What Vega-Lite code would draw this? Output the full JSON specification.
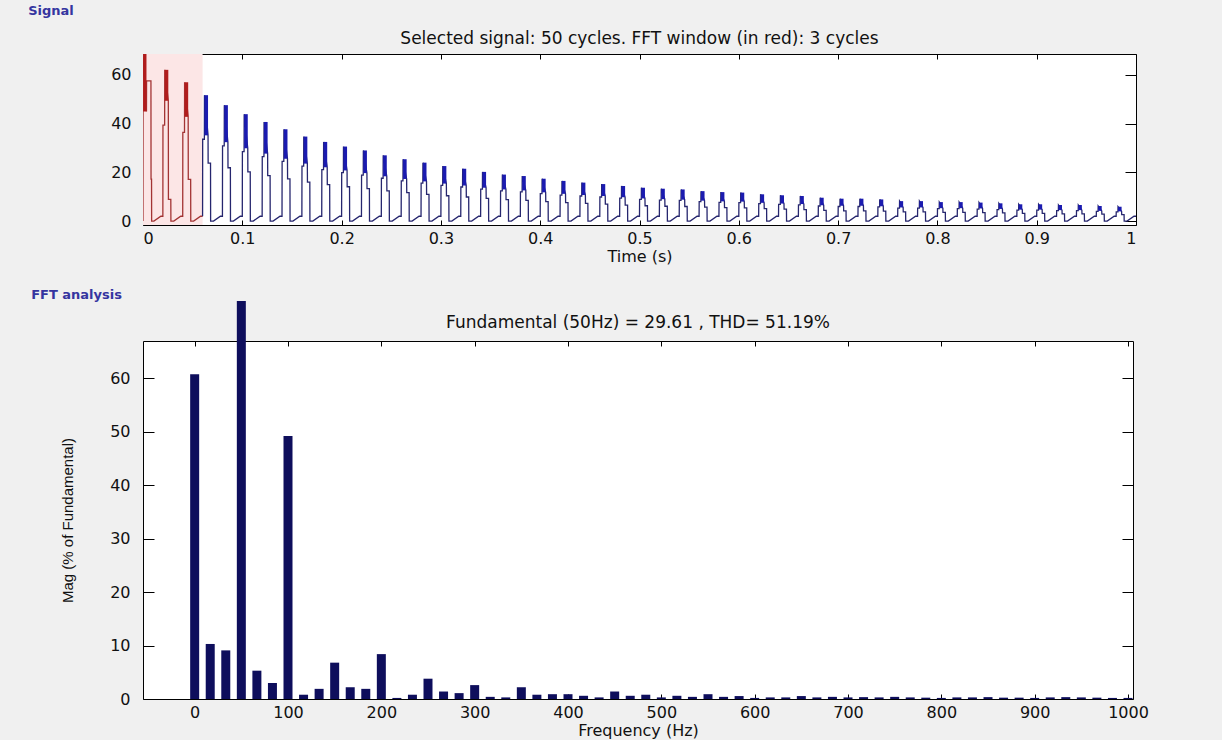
{
"$schema": "https://vega.github.io/schema/vega-lite/v6.json",
"background": "#f0f0f0",
"padding": {"left": 28, "top": 4, "right": 90, "bottom": 4},
"config": {
  "view": {"stroke": "#000", "strokeWidth": 1, "fill": "#ffffff"},
  "font": "DejaVu Sans",
  "axis": {"grid": false, "domain": false, "tickColor": "#000", "tickWidth": 1, "labelColor": "#111", "labelFont": "DejaVu Sans", "labelFontSize": 16, "titleFont": "DejaVu Sans", "titleFontSize": 16, "titleFontWeight": "normal", "titleColor": "#111", "zindex": 1},
  "title": {"font": "DejaVu Sans", "fontSize": 17, "fontWeight": "normal", "color": "#111"}
},
"datasets": {
"sig": [
{"t":0,"v":0},{"t":0.0001,"v":68.6},{"t":0.0035,"v":45},{"t":0.0036,"v":57.6},{"t":0.008,"v":57.6},{"t":0.0081,"v":17.2},{"t":0.0086,"v":17.2},{"t":0.0087,"v":0},{"t":0.011,"v":0},{"t":0.018,"v":2},
{"t":0.02,"v":2},{"t":0.0201,"v":39.4},{"t":0.0218,"v":39.4},{"t":0.0219,"v":62.1},{"t":0.0255,"v":49.4},{"t":0.0256,"v":8.9},{"t":0.028,"v":8.9},{"t":0.0281,"v":0},{"t":0.031,"v":0},{"t":0.038,"v":2},
{"t":0.04,"v":2},{"t":0.0401,"v":36.4},{"t":0.0418,"v":36.4},{"t":0.0419,"v":57},{"t":0.0455,"v":42.8},{"t":0.0456,"v":17.1},{"t":0.048,"v":17.1},{"t":0.0481,"v":0},{"t":0.051,"v":0},{"t":0.058,"v":2},
{"t":0.06,"v":2},{"t":0.0601,"v":33.6},{"t":0.0618,"v":33.6},{"t":0.0619,"v":51.7},{"t":0.0655,"v":35.2},{"t":0.0656,"v":23.8},{"t":0.068,"v":23.8},{"t":0.0681,"v":0},{"t":0.071,"v":0},{"t":0.078,"v":2},
{"t":0.08,"v":2},{"t":0.0801,"v":30.9},{"t":0.0818,"v":30.9},{"t":0.0819,"v":47.6},{"t":0.0855,"v":32.4},{"t":0.0856,"v":21.9},{"t":0.088,"v":21.9},{"t":0.0881,"v":0},{"t":0.091,"v":0},{"t":0.098,"v":2},
{"t":0.1,"v":2},{"t":0.1001,"v":28.5},{"t":0.1018,"v":28.5},{"t":0.1019,"v":43.9},{"t":0.1055,"v":29.9},{"t":0.1056,"v":20.2},{"t":0.108,"v":20.2},{"t":0.1081,"v":0},{"t":0.111,"v":0},{"t":0.118,"v":2},
{"t":0.12,"v":2},{"t":0.1201,"v":26.5},{"t":0.1218,"v":26.5},{"t":0.1219,"v":40.7},{"t":0.1255,"v":27.7},{"t":0.1256,"v":18.7},{"t":0.128,"v":18.7},{"t":0.1281,"v":0},{"t":0.131,"v":0},{"t":0.138,"v":2},
{"t":0.14,"v":2},{"t":0.1401,"v":24.5},{"t":0.1418,"v":24.5},{"t":0.1419,"v":37.7},{"t":0.1455,"v":25.6},{"t":0.1456,"v":17.3},{"t":0.148,"v":17.3},{"t":0.1481,"v":0},{"t":0.151,"v":0},{"t":0.158,"v":2},
{"t":0.16,"v":2},{"t":0.1601,"v":22.6},{"t":0.1618,"v":22.6},{"t":0.1619,"v":34.7},{"t":0.1655,"v":23.6},{"t":0.1656,"v":16},{"t":0.168,"v":16},{"t":0.1681,"v":0},{"t":0.171,"v":0},{"t":0.178,"v":2},
{"t":0.18,"v":2},{"t":0.1801,"v":21.1},{"t":0.1818,"v":21.1},{"t":0.1819,"v":32.5},{"t":0.1855,"v":22.1},{"t":0.1856,"v":15},{"t":0.188,"v":15},{"t":0.1881,"v":0},{"t":0.191,"v":0},{"t":0.198,"v":2},
{"t":0.2,"v":2},{"t":0.2001,"v":19.9},{"t":0.2018,"v":19.9},{"t":0.2019,"v":30.6},{"t":0.2055,"v":20.8},{"t":0.2056,"v":14.1},{"t":0.208,"v":14.1},{"t":0.2081,"v":0},{"t":0.211,"v":0},{"t":0.218,"v":2},
{"t":0.22,"v":2},{"t":0.2201,"v":18.9},{"t":0.2218,"v":18.9},{"t":0.2219,"v":29},{"t":0.2255,"v":19.7},{"t":0.2256,"v":13.3},{"t":0.228,"v":13.3},{"t":0.2281,"v":0},{"t":0.231,"v":0},{"t":0.238,"v":2},
{"t":0.24,"v":2},{"t":0.2401,"v":17.6},{"t":0.2418,"v":17.6},{"t":0.2419,"v":27},{"t":0.2455,"v":18.4},{"t":0.2456,"v":12.4},{"t":0.248,"v":12.4},{"t":0.2481,"v":0},{"t":0.251,"v":0},{"t":0.258,"v":2},
{"t":0.26,"v":2},{"t":0.2601,"v":16.5},{"t":0.2618,"v":16.5},{"t":0.2619,"v":25.4},{"t":0.2655,"v":17.3},{"t":0.2656,"v":11.7},{"t":0.268,"v":11.7},{"t":0.2681,"v":0},{"t":0.271,"v":0},{"t":0.278,"v":2},
{"t":0.28,"v":2},{"t":0.2801,"v":15.6},{"t":0.2818,"v":15.6},{"t":0.2819,"v":24},{"t":0.2855,"v":16.3},{"t":0.2856,"v":11},{"t":0.288,"v":11},{"t":0.2881,"v":0},{"t":0.291,"v":0},{"t":0.298,"v":2},
{"t":0.3,"v":2},{"t":0.3001,"v":14.7},{"t":0.3018,"v":14.7},{"t":0.3019,"v":22.6},{"t":0.3055,"v":15.4},{"t":0.3056,"v":10.4},{"t":0.308,"v":10.4},{"t":0.3081,"v":0},{"t":0.311,"v":0},{"t":0.318,"v":2},
{"t":0.32,"v":2},{"t":0.3201,"v":14},{"t":0.3218,"v":14},{"t":0.3219,"v":21.5},{"t":0.3255,"v":14.6},{"t":0.3256,"v":9.9},{"t":0.328,"v":9.9},{"t":0.3281,"v":0},{"t":0.331,"v":0},{"t":0.338,"v":2},
{"t":0.34,"v":2},{"t":0.3401,"v":13.1},{"t":0.3418,"v":13.1},{"t":0.3419,"v":20.2},{"t":0.3455,"v":13.7},{"t":0.3456,"v":9.3},{"t":0.348,"v":9.3},{"t":0.3481,"v":0},{"t":0.351,"v":0},{"t":0.358,"v":2},
{"t":0.36,"v":2},{"t":0.3601,"v":12.4},{"t":0.3618,"v":12.4},{"t":0.3619,"v":19.1},{"t":0.3655,"v":13},{"t":0.3656,"v":8.8},{"t":0.368,"v":8.8},{"t":0.3681,"v":0},{"t":0.371,"v":0},{"t":0.378,"v":2},
{"t":0.38,"v":2},{"t":0.3801,"v":12},{"t":0.3818,"v":12},{"t":0.3819,"v":18.5},{"t":0.3855,"v":12.6},{"t":0.3856,"v":8.5},{"t":0.388,"v":8.5},{"t":0.3881,"v":0},{"t":0.391,"v":0},{"t":0.398,"v":2},
{"t":0.4,"v":2},{"t":0.4001,"v":11.3},{"t":0.4018,"v":11.3},{"t":0.4019,"v":17.4},{"t":0.4055,"v":11.8},{"t":0.4056,"v":8},{"t":0.408,"v":8},{"t":0.4081,"v":0},{"t":0.411,"v":0},{"t":0.418,"v":2},
{"t":0.42,"v":2},{"t":0.4201,"v":10.7},{"t":0.4218,"v":10.7},{"t":0.4219,"v":16.5},{"t":0.4255,"v":11.2},{"t":0.4256,"v":7.6},{"t":0.428,"v":7.6},{"t":0.4281,"v":0},{"t":0.431,"v":0},{"t":0.438,"v":2},
{"t":0.44,"v":2},{"t":0.4401,"v":10.3},{"t":0.4418,"v":10.3},{"t":0.4419,"v":15.8},{"t":0.4455,"v":10.7},{"t":0.4456,"v":7.3},{"t":0.448,"v":7.3},{"t":0.4481,"v":0},{"t":0.451,"v":0},{"t":0.458,"v":2},
{"t":0.46,"v":2},{"t":0.4601,"v":9.9},{"t":0.4618,"v":9.9},{"t":0.4619,"v":15.2},{"t":0.4655,"v":10.3},{"t":0.4656,"v":7},{"t":0.468,"v":7},{"t":0.4681,"v":0},{"t":0.471,"v":0},{"t":0.478,"v":2},
{"t":0.48,"v":2},{"t":0.4801,"v":9.4},{"t":0.4818,"v":9.4},{"t":0.4819,"v":14.4},{"t":0.4855,"v":9.8},{"t":0.4856,"v":6.6},{"t":0.488,"v":6.6},{"t":0.4881,"v":0},{"t":0.491,"v":0},{"t":0.498,"v":2},
{"t":0.5,"v":2},{"t":0.5001,"v":8.9},{"t":0.5018,"v":8.9},{"t":0.5019,"v":13.7},{"t":0.5055,"v":9.3},{"t":0.5056,"v":6.3},{"t":0.508,"v":6.3},{"t":0.5081,"v":0},{"t":0.511,"v":0},{"t":0.518,"v":2},
{"t":0.52,"v":2},{"t":0.5201,"v":8.6},{"t":0.5218,"v":8.6},{"t":0.5219,"v":13.3},{"t":0.5255,"v":9},{"t":0.5256,"v":6.1},{"t":0.528,"v":6.1},{"t":0.5281,"v":0},{"t":0.531,"v":0},{"t":0.538,"v":2},
{"t":0.54,"v":2},{"t":0.5401,"v":8.5},{"t":0.5418,"v":8.5},{"t":0.5419,"v":13},{"t":0.5455,"v":8.8},{"t":0.5456,"v":6},{"t":0.548,"v":6},{"t":0.5481,"v":0},{"t":0.551,"v":0},{"t":0.558,"v":2},
{"t":0.56,"v":2},{"t":0.5601,"v":8},{"t":0.5618,"v":8},{"t":0.5619,"v":12.3},{"t":0.5655,"v":8.4},{"t":0.5656,"v":5.7},{"t":0.568,"v":5.7},{"t":0.5681,"v":0},{"t":0.571,"v":0},{"t":0.578,"v":2},
{"t":0.58,"v":2},{"t":0.5801,"v":7.7},{"t":0.5818,"v":7.7},{"t":0.5819,"v":11.9},{"t":0.5855,"v":8.1},{"t":0.5856,"v":5.5},{"t":0.588,"v":5.5},{"t":0.5881,"v":0},{"t":0.591,"v":0},{"t":0.598,"v":2},
{"t":0.6,"v":2},{"t":0.6001,"v":7.6},{"t":0.6018,"v":7.6},{"t":0.6019,"v":11.7},{"t":0.6055,"v":8},{"t":0.6056,"v":5.4},{"t":0.608,"v":5.4},{"t":0.6081,"v":0},{"t":0.611,"v":0},{"t":0.618,"v":2},
{"t":0.62,"v":2},{"t":0.6201,"v":7.2},{"t":0.6218,"v":7.2},{"t":0.6219,"v":11},{"t":0.6255,"v":7.5},{"t":0.6256,"v":5.1},{"t":0.628,"v":5.1},{"t":0.6281,"v":0},{"t":0.631,"v":0},{"t":0.638,"v":2},
{"t":0.64,"v":2},{"t":0.6401,"v":6.9},{"t":0.6418,"v":6.9},{"t":0.6419,"v":10.6},{"t":0.6455,"v":7.2},{"t":0.6456,"v":4.9},{"t":0.648,"v":4.9},{"t":0.6481,"v":0},{"t":0.651,"v":0},{"t":0.658,"v":2},
{"t":0.66,"v":2},{"t":0.6601,"v":6.7},{"t":0.6618,"v":6.7},{"t":0.6619,"v":10.3},{"t":0.6655,"v":7},{"t":0.6656,"v":4.7},{"t":0.668,"v":4.7},{"t":0.6681,"v":0},{"t":0.671,"v":0},{"t":0.678,"v":2},
{"t":0.68,"v":2},{"t":0.6801,"v":6.2},{"t":0.6818,"v":6.2},{"t":0.6819,"v":9.6},{"t":0.6855,"v":6.5},{"t":0.6856,"v":4.4},{"t":0.688,"v":4.4},{"t":0.6881,"v":0},{"t":0.691,"v":0},{"t":0.698,"v":2},
{"t":0.7,"v":2},{"t":0.7001,"v":6},{"t":0.7018,"v":6},{"t":0.7019,"v":9.2},{"t":0.7055,"v":6.3},{"t":0.7056,"v":4.2},{"t":0.708,"v":4.2},{"t":0.7081,"v":0},{"t":0.711,"v":0},{"t":0.718,"v":2},
{"t":0.72,"v":2},{"t":0.7201,"v":6},{"t":0.7218,"v":6},{"t":0.7219,"v":9.2},{"t":0.7255,"v":6.3},{"t":0.7256,"v":4.2},{"t":0.728,"v":4.2},{"t":0.7281,"v":0},{"t":0.731,"v":0},{"t":0.738,"v":2},
{"t":0.74,"v":2},{"t":0.7401,"v":5.8},{"t":0.7418,"v":5.8},{"t":0.7419,"v":8.9},{"t":0.7455,"v":6.1},{"t":0.7456,"v":4.1},{"t":0.748,"v":4.1},{"t":0.7481,"v":0},{"t":0.751,"v":0},{"t":0.758,"v":2},
{"t":0.76,"v":2},{"t":0.7601,"v":5.3},{"t":0.7618,"v":5.3},{"t":0.7619,"v":8.2},{"t":0.7655,"v":5.6},{"t":0.7656,"v":3.8},{"t":0.768,"v":3.8},{"t":0.7681,"v":0},{"t":0.771,"v":0},{"t":0.778,"v":2},
{"t":0.78,"v":2},{"t":0.7801,"v":5.3},{"t":0.7818,"v":5.3},{"t":0.7819,"v":8.2},{"t":0.7855,"v":5.6},{"t":0.7856,"v":3.8},{"t":0.788,"v":3.8},{"t":0.7881,"v":0},{"t":0.791,"v":0},{"t":0.798,"v":2},
{"t":0.8,"v":2},{"t":0.8001,"v":5.1},{"t":0.8018,"v":5.1},{"t":0.8019,"v":7.8},{"t":0.8055,"v":5.3},{"t":0.8056,"v":3.6},{"t":0.808,"v":3.6},{"t":0.8081,"v":0},{"t":0.811,"v":0},{"t":0.818,"v":2},
{"t":0.82,"v":2},{"t":0.8201,"v":5.1},{"t":0.8218,"v":5.1},{"t":0.8219,"v":7.8},{"t":0.8255,"v":5.3},{"t":0.8256,"v":3.6},{"t":0.828,"v":3.6},{"t":0.8281,"v":0},{"t":0.831,"v":0},{"t":0.838,"v":2},
{"t":0.84,"v":2},{"t":0.8401,"v":4.9},{"t":0.8418,"v":4.9},{"t":0.8419,"v":7.6},{"t":0.8455,"v":5.2},{"t":0.8456,"v":3.5},{"t":0.848,"v":3.5},{"t":0.8481,"v":0},{"t":0.851,"v":0},{"t":0.858,"v":2},
{"t":0.86,"v":2},{"t":0.8601,"v":4.7},{"t":0.8618,"v":4.7},{"t":0.8619,"v":7.3},{"t":0.8655,"v":5},{"t":0.8656,"v":3.4},{"t":0.868,"v":3.4},{"t":0.8681,"v":0},{"t":0.871,"v":0},{"t":0.878,"v":2},
{"t":0.88,"v":2},{"t":0.8801,"v":4.5},{"t":0.8818,"v":4.5},{"t":0.8819,"v":6.9},{"t":0.8855,"v":4.7},{"t":0.8856,"v":3.2},{"t":0.888,"v":3.2},{"t":0.8881,"v":0},{"t":0.891,"v":0},{"t":0.898,"v":2},
{"t":0.9,"v":2},{"t":0.9001,"v":4.5},{"t":0.9018,"v":4.5},{"t":0.9019,"v":6.9},{"t":0.9055,"v":4.7},{"t":0.9056,"v":3.2},{"t":0.908,"v":3.2},{"t":0.9081,"v":0},{"t":0.911,"v":0},{"t":0.918,"v":2},
{"t":0.92,"v":2},{"t":0.9201,"v":4.3},{"t":0.9218,"v":4.3},{"t":0.9219,"v":6.6},{"t":0.9255,"v":4.5},{"t":0.9256,"v":3},{"t":0.928,"v":3},{"t":0.9281,"v":0},{"t":0.931,"v":0},{"t":0.938,"v":2},
{"t":0.94,"v":2},{"t":0.9401,"v":4.3},{"t":0.9418,"v":4.3},{"t":0.9419,"v":6.6},{"t":0.9455,"v":4.5},{"t":0.9456,"v":3},{"t":0.948,"v":3},{"t":0.9481,"v":0},{"t":0.951,"v":0},{"t":0.958,"v":2},
{"t":0.96,"v":2},{"t":0.9601,"v":4},{"t":0.9618,"v":4},{"t":0.9619,"v":6.2},{"t":0.9655,"v":4.2},{"t":0.9656,"v":2.9},{"t":0.968,"v":2.9},{"t":0.9681,"v":0},{"t":0.971,"v":0},{"t":0.978,"v":2},
{"t":0.98,"v":2},{"t":0.9801,"v":3.8},{"t":0.9818,"v":3.8},{"t":0.9819,"v":5.9},{"t":0.9855,"v":4},{"t":0.9856,"v":2.7},{"t":0.988,"v":2.7},{"t":0.9881,"v":0},{"t":0.991,"v":0},{"t":0.998,"v":2},{"t":1,"v":2}
],
"bands": [
{"t1":0.0001,"t2":0.0035,"lo":45,"hi":68.6},
{"t1":0.0219,"t2":0.0255,"lo":49.4,"hi":62.1},
{"t1":0.0419,"t2":0.0455,"lo":42.8,"hi":57},
{"t1":0.0619,"t2":0.0655,"lo":35.2,"hi":51.7},
{"t1":0.0819,"t2":0.0855,"lo":32.4,"hi":47.6},
{"t1":0.1019,"t2":0.1055,"lo":29.9,"hi":43.9},
{"t1":0.1219,"t2":0.1255,"lo":27.7,"hi":40.7},
{"t1":0.1419,"t2":0.1455,"lo":25.6,"hi":37.7},
{"t1":0.1619,"t2":0.1655,"lo":23.6,"hi":34.7},
{"t1":0.1819,"t2":0.1855,"lo":22.1,"hi":32.5},
{"t1":0.2019,"t2":0.2055,"lo":20.8,"hi":30.6},
{"t1":0.2219,"t2":0.2255,"lo":19.7,"hi":29},
{"t1":0.2419,"t2":0.2455,"lo":18.4,"hi":27},
{"t1":0.2619,"t2":0.2655,"lo":17.3,"hi":25.4},
{"t1":0.2819,"t2":0.2855,"lo":16.3,"hi":24},
{"t1":0.3019,"t2":0.3055,"lo":15.4,"hi":22.6},
{"t1":0.3219,"t2":0.3255,"lo":14.6,"hi":21.5},
{"t1":0.3419,"t2":0.3455,"lo":13.7,"hi":20.2},
{"t1":0.3619,"t2":0.3655,"lo":13,"hi":19.1},
{"t1":0.3819,"t2":0.3855,"lo":12.6,"hi":18.5},
{"t1":0.4019,"t2":0.4055,"lo":11.8,"hi":17.4},
{"t1":0.4219,"t2":0.4255,"lo":11.2,"hi":16.5},
{"t1":0.4419,"t2":0.4455,"lo":10.7,"hi":15.8},
{"t1":0.4619,"t2":0.4655,"lo":10.3,"hi":15.2},
{"t1":0.4819,"t2":0.4855,"lo":9.8,"hi":14.4},
{"t1":0.5019,"t2":0.5055,"lo":9.3,"hi":13.7},
{"t1":0.5219,"t2":0.5255,"lo":9,"hi":13.3},
{"t1":0.5419,"t2":0.5455,"lo":8.8,"hi":13},
{"t1":0.5619,"t2":0.5655,"lo":8.4,"hi":12.3},
{"t1":0.5819,"t2":0.5855,"lo":8.1,"hi":11.9},
{"t1":0.6019,"t2":0.6055,"lo":8,"hi":11.7},
{"t1":0.6219,"t2":0.6255,"lo":7.5,"hi":11},
{"t1":0.6419,"t2":0.6455,"lo":7.2,"hi":10.6},
{"t1":0.6619,"t2":0.6655,"lo":7,"hi":10.3},
{"t1":0.6819,"t2":0.6855,"lo":6.5,"hi":9.6},
{"t1":0.7019,"t2":0.7055,"lo":6.3,"hi":9.2},
{"t1":0.7219,"t2":0.7255,"lo":6.3,"hi":9.2},
{"t1":0.7419,"t2":0.7455,"lo":6.1,"hi":8.9},
{"t1":0.7619,"t2":0.7655,"lo":5.6,"hi":8.2},
{"t1":0.7819,"t2":0.7855,"lo":5.6,"hi":8.2},
{"t1":0.8019,"t2":0.8055,"lo":5.3,"hi":7.8},
{"t1":0.8219,"t2":0.8255,"lo":5.3,"hi":7.8},
{"t1":0.8419,"t2":0.8455,"lo":5.2,"hi":7.6},
{"t1":0.8619,"t2":0.8655,"lo":5,"hi":7.3},
{"t1":0.8819,"t2":0.8855,"lo":4.7,"hi":6.9},
{"t1":0.9019,"t2":0.9055,"lo":4.7,"hi":6.9},
{"t1":0.9219,"t2":0.9255,"lo":4.5,"hi":6.6},
{"t1":0.9419,"t2":0.9455,"lo":4.5,"hi":6.6},
{"t1":0.9619,"t2":0.9655,"lo":4.2,"hi":6.2},
{"t1":0.9819,"t2":0.9855,"lo":4,"hi":5.9}
],
"fft": [
{"f":0,"m":60.8},{"f":16.67,"m":10.3},{"f":33.33,"m":9.1},{"f":50,"m":100},{"f":66.67,"m":5.3},{"f":83.33,"m":3.0},
{"f":100,"m":49.2},{"f":116.67,"m":0.8},{"f":133.33,"m":1.9},{"f":150,"m":6.8},{"f":166.67,"m":2.2},{"f":183.33,"m":1.9},
{"f":200,"m":8.4},{"f":216.67,"m":0.2},{"f":233.33,"m":0.8},{"f":250,"m":3.8},{"f":266.67,"m":1.4},{"f":283.33,"m":1.1},
{"f":300,"m":2.6},{"f":316.67,"m":0.4},{"f":333.33,"m":0.3},{"f":350,"m":2.2},{"f":366.67,"m":0.8},{"f":383.33,"m":0.9},
{"f":400,"m":0.9},{"f":416.67,"m":0.6},{"f":433.33,"m":0.3},{"f":450,"m":1.4},{"f":466.67,"m":0.6},{"f":483.33,"m":0.8},
{"f":500,"m":0.3},{"f":516.67,"m":0.6},{"f":533.33,"m":0.4},{"f":550,"m":0.9},{"f":566.67,"m":0.4},{"f":583.33,"m":0.55},
{"f":600,"m":0.2},{"f":616.67,"m":0.3},{"f":633.33,"m":0.3},{"f":650,"m":0.55},{"f":666.67,"m":0.3},{"f":683.33,"m":0.4},
{"f":700,"m":0.3},{"f":716.67,"m":0.35},{"f":733.33,"m":0.3},{"f":750,"m":0.4},{"f":766.67,"m":0.3},{"f":783.33,"m":0.25},
{"f":800,"m":0.2},{"f":816.67,"m":0.3},{"f":833.33,"m":0.3},{"f":850,"m":0.35},{"f":866.67,"m":0.25},{"f":883.33,"m":0.25},
{"f":900,"m":0.2},{"f":916.67,"m":0.3},{"f":933.33,"m":0.35},{"f":950,"m":0.3},{"f":966.67,"m":0.25},{"f":983.33,"m":0.2},
{"f":1000,"m":0.2}
]
},
"spacing": 24,
"vconcat": [
 {
  "title": {"text": "Signal", "anchor": "start", "fontSize": 13, "fontWeight": "bold", "color": "#3535a0", "offset": 12, "dx": -82},
  "vconcat": [
   {
    "width": 993, "height": 171,
    "title": {"text": "Selected signal: 50 cycles. FFT window (in red): 3 cycles", "offset": 3},
    "layer": [
     {"data": {"values": [{"x1": 0, "x2": 0.06}]}, "mark": {"type": "rect", "color": "#fce6e6"},
      "encoding": {"x": {"field": "x1", "type": "quantitative", "scale": {"domain": [0, 1], "nice": false, "zero": false}, "axis": null}, "x2": {"field": "x2"}}},
     {"data": {"name": "sig"}, "transform": [{"filter": "datum.t <= 0.06"}], "mark": {"type": "line", "color": "#a33434", "strokeWidth": 1.3, "clip": true},
      "encoding": {"x": {"field": "t", "type": "quantitative", "scale": {"domain": [0, 1], "nice": false, "zero": false}, "axis": null}, "y": {"field": "v", "type": "quantitative", "scale": {"domain": [-1.6, 68.6], "nice": false, "zero": false}, "axis": null}}},
     {"data": {"name": "sig"}, "transform": [{"filter": "datum.t >= 0.06"}], "mark": {"type": "line", "color": "#26266e", "strokeWidth": 1.3, "clip": true},
      "encoding": {"x": {"field": "t", "type": "quantitative", "scale": {"domain": [0, 1], "nice": false, "zero": false}, "axis": null}, "y": {"field": "v", "type": "quantitative", "scale": {"domain": [-1.6, 68.6], "nice": false, "zero": false}, "axis": null}}},
     {"data": {"name": "bands"}, "transform": [{"filter": "datum.t1 < 0.06"}], "mark": {"type": "rect", "color": "#b01c1c"},
      "encoding": {"x": {"field": "t1", "type": "quantitative", "scale": {"domain": [0, 1], "nice": false, "zero": false}, "axis": null}, "x2": {"field": "t2"}, "y": {"field": "lo", "type": "quantitative", "scale": {"domain": [-1.6, 68.6], "nice": false, "zero": false}, "axis": null}, "y2": {"field": "hi"}}},
     {"data": {"name": "bands"}, "transform": [{"filter": "datum.t1 >= 0.06"}], "mark": {"type": "rect", "color": "#1b1bb0"},
      "encoding": {"x": {"field": "t1", "type": "quantitative", "scale": {"domain": [0, 1], "nice": false, "zero": false}, "axis": null}, "x2": {"field": "t2"}, "y": {"field": "lo", "type": "quantitative", "scale": {"domain": [-1.6, 68.6], "nice": false, "zero": false}, "axis": null}, "y2": {"field": "hi"}}},
     {"data": {"name": "bands"}, "mark": {"type": "point", "opacity": 0},
      "encoding": {"x": {"field": "t1", "type": "quantitative", "scale": {"domain": [0, 1], "nice": false, "zero": false}, "axis": {"orient": "bottom", "values": [0, 0.1, 0.2, 0.3, 0.4, 0.5, 0.6, 0.7, 0.8, 0.9, 1], "format": "~g", "tickSize": -5, "labelPadding": 10, "title": "Time (s)", "titlePadding": 2}},
                   "y": {"field": "hi", "type": "quantitative", "scale": {"domain": [-1.6, 68.6], "nice": false, "zero": false}, "axis": {"orient": "left", "values": [0, 20, 40, 60], "tickSize": -11, "labelPadding": 23, "title": null}}}},
     {"data": {"name": "bands"}, "mark": {"type": "point", "opacity": 0},
      "encoding": {"x": {"field": "t1", "type": "quantitative", "scale": {"domain": [0, 1], "nice": false, "zero": false}, "axis": {"orient": "top", "values": [0, 0.1, 0.2, 0.3, 0.4, 0.5, 0.6, 0.7, 0.8, 0.9, 1], "labels": false, "tickSize": -5, "title": null}},
                   "y": {"field": "hi", "type": "quantitative", "scale": {"domain": [-1.6, 68.6], "nice": false, "zero": false}, "axis": {"orient": "right", "values": [0, 20, 40, 60], "labels": false, "tickSize": -11, "title": null}}}}
    ],
    "resolve": {"axis": {"x": "independent", "y": "independent"}}
   }
  ]
 },
 {
  "title": {"text": "FFT analysis", "anchor": "start", "fontSize": 13, "fontWeight": "bold", "color": "#3535a0", "offset": -2, "dx": -29},
  "vconcat": [
   {
    "width": 990, "height": 358,
    "title": {"text": "Fundamental (50Hz) = 29.61 , THD= 51.19%", "offset": 8, "dy": 39},
    "layer": [
     {"data": {"name": "fft"}, "mark": {"type": "bar", "size": 9, "color": "#0e0e5c"},
      "encoding": {"x": {"field": "f", "type": "quantitative", "scale": {"domain": [-50, 1000], "nice": false, "zero": false}, "axis": null},
                   "y": {"field": "m", "type": "quantitative", "scale": {"domain": [0, 74.5], "range": [358, -40.07], "clamp": true, "nice": false}, "axis": null}}},
     {"data": {"name": "fft"}, "mark": {"type": "point", "opacity": 0, "clip": true},
      "encoding": {"x": {"field": "f", "type": "quantitative", "scale": {"domain": [-50, 1000], "nice": false, "zero": false}, "axis": {"orient": "bottom", "values": [0, 100, 200, 300, 400, 500, 600, 700, 800, 900, 1000], "format": "d", "tickSize": -5, "labelPadding": 10, "title": "Frequency (Hz)", "titlePadding": 2}},
                   "y": {"field": "m", "type": "quantitative", "scale": {"domain": [0, 67], "nice": false}, "axis": {"orient": "left", "values": [0, 10, 20, 30, 40, 50, 60], "tickSize": -11, "labelPadding": 24, "title": "Mag (% of Fundamental)", "titleFont": "Liberation Sans", "titleFontSize": 15, "titlePadding": 34}}}},
     {"data": {"name": "fft"}, "mark": {"type": "point", "opacity": 0, "clip": true},
      "encoding": {"x": {"field": "f", "type": "quantitative", "scale": {"domain": [-50, 1000], "nice": false, "zero": false}, "axis": {"orient": "top", "values": [0, 100, 200, 300, 400, 500, 600, 700, 800, 900, 1000], "labels": false, "tickSize": -5, "title": null}},
                   "y": {"field": "m", "type": "quantitative", "scale": {"domain": [0, 67], "nice": false}, "axis": {"orient": "right", "values": [0, 10, 20, 30, 40, 50, 60], "labels": false, "tickSize": -11, "title": null}}}}
    ],
    "resolve": {"scale": {"y": "independent"}, "axis": {"x": "independent", "y": "independent"}}
   }
  ]
 }
]
}
